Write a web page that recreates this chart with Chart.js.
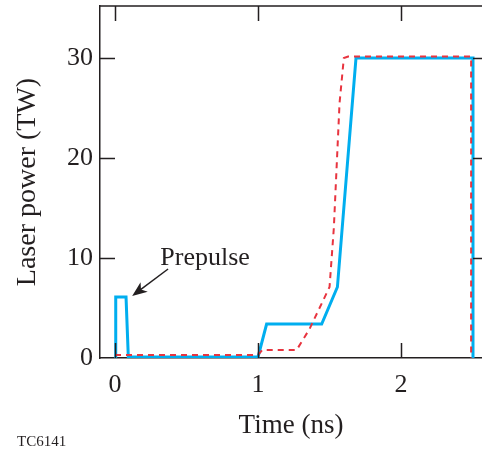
<!DOCTYPE html>
<html>
<head>
<meta charset="utf-8">
<script src="https://cdn.jsdelivr.net/npm/chart.js@4.4.0/dist/chart.umd.min.js"></script>
<style>
  html, body { margin: 0; padding: 0; background: #fff; overflow: hidden; }
  #wrap { position: relative; width: 482px; height: 450px; }
</style>
</head>
<body>
<div id="wrap"><canvas id="pulseChart"></canvas></div>
<script>
// Pulse shapes (time in ns, power in TW)
const blueTime  = [0, 0.005, 0.077, 0.093, 1.0, 1.06, 1.445, 1.555, 1.685, 2.503, 2.503];
const bluePower = [0, 6.1, 6.1, 0.1, 0.1, 3.4, 3.4, 7.1, 30, 30, 0];

const redTime  = [0, 1.0, 1.03, 1.27, 1.36, 1.5, 1.53, 1.57, 1.6, 1.63, 2.49, 2.49];
const redPower = [0.3, 0.3, 0.8, 0.8, 2.9, 7.1, 13, 25.5, 30, 30.15, 30.15, 0];

const xTicks = [0, 1, 2];
const yTicks = [0, 10, 20, 30];

const serif = '"Liberation Serif", "Times New Roman", serif';
const ink = '#231f20';

function toPoints(xs, ys) {
    return xs.map((x, i) => ({ x: x, y: ys[i] }));
}

// frame, inward ticks and the "Prepulse" note
const framePlugin = {
    id: 'frame',
    afterDatasetsDraw(chart) {
        const ctx = chart.ctx;
        const area = chart.chartArea;
        const xs = chart.scales.x;
        const ys = chart.scales.y;
        ctx.save();
        ctx.strokeStyle = ink;
        ctx.lineWidth = 1.5;
        ctx.beginPath();
        // top line
        ctx.moveTo(area.left, area.top);
        ctx.lineTo(area.right, area.top);
        // x ticks, bottom and top
        xTicks.forEach(v => {
            const px = Math.round(xs.getPixelForValue(v)) + 0.5;
            ctx.moveTo(px, area.bottom);
            ctx.lineTo(px, area.bottom - 15);
            ctx.moveTo(px, area.top);
            ctx.lineTo(px, area.top + 15);
        });
        // y ticks, left and right
        yTicks.slice(1).forEach(v => {
            const py = Math.round(ys.getPixelForValue(v)) + 0.5;
            ctx.moveTo(area.left, py);
            ctx.lineTo(area.left + 15, py);
            ctx.moveTo(area.right, py);
            ctx.lineTo(area.right - 9, py);
        });
        ctx.stroke();

        // annotation
        ctx.fillStyle = ink;
        ctx.font = '26px ' + serif;
        ctx.textAlign = 'center';
        ctx.textBaseline = 'alphabetic';
        ctx.fillText('Prepulse', xs.getPixelForValue(0.63), ys.getPixelForValue(9.3));

        const x0 = xs.getPixelForValue(0.371), y0 = ys.getPixelForValue(8.9);
        const x1 = xs.getPixelForValue(0.12), y1 = ys.getPixelForValue(6.2);
        const ang = Math.atan2(y1 - y0, x1 - x0);
        ctx.lineWidth = 1.5;
        ctx.beginPath();
        ctx.moveTo(x0, y0);
        ctx.lineTo(x1 - 8 * Math.cos(ang), y1 - 8 * Math.sin(ang));
        ctx.stroke();
        ctx.beginPath();
        ctx.moveTo(x1, y1);
        ctx.lineTo(x1 - 15 * Math.cos(ang) + 6 * Math.sin(ang), y1 - 15 * Math.sin(ang) - 6 * Math.cos(ang));
        ctx.lineTo(x1 - 11 * Math.cos(ang), y1 - 11 * Math.sin(ang));
        ctx.lineTo(x1 - 15 * Math.cos(ang) - 6 * Math.sin(ang), y1 - 15 * Math.sin(ang) + 6 * Math.cos(ang));
        ctx.closePath();
        ctx.fill();

        // figure id
        ctx.font = '15px ' + serif;
        ctx.textAlign = 'left';
        ctx.textBaseline = 'middle';
        ctx.fillText('TC6141', 17, 442);
        ctx.restore();
    }
};

new Chart(document.getElementById('pulseChart'), {
    type: 'line',
    data: {
        datasets: [
            {
                label: 'Measured',
                data: toPoints(redTime, redPower),
                borderColor: '#e8343f',
                borderWidth: 2,
                borderDash: [6, 5],
                pointRadius: 0,
                tension: 0,
                fill: false
            },
            {
                label: 'Design',
                data: toPoints(blueTime, bluePower),
                borderColor: '#00aeef',
                borderWidth: 3,
                pointRadius: 0,
                tension: 0,
                fill: false
            }
        ]
    },
    plugins: [framePlugin],
    options: {
        responsive: true,
        maintainAspectRatio: false,
        animation: false,
        layout: { padding: { top: 6, right: 0, left: 0, bottom: 0 } },
        plugins: {
            legend: { display: false },
            tooltip: { enabled: false }
        },
        scales: {
            x: {
                type: 'linear',
                min: -0.105,
                max: 2.566,
                afterBuildTicks: s => { s.ticks = xTicks.map(v => ({ value: v })); },
                afterFit: s => { s.height = 92; s.paddingLeft = 0; s.paddingRight = 0; },
                grid: { display: false, drawTicks: false },
                border: { display: true, color: ink, width: 1.5 },
                ticks: {
                    padding: 12,
                    color: ink,
                    font: { family: serif, size: 26 }
                },
                title: {
                    display: true,
                    text: 'Time (ns)',
                    color: ink,
                    font: { family: serif, size: 27 },
                    padding: { top: 4, bottom: 8 }
                }
            },
            y: {
                type: 'linear',
                min: 0,
                max: 35.2,
                afterBuildTicks: s => { s.ticks = yTicks.map(v => ({ value: v })); },
                afterFit: s => { s.width = 100; s.paddingTop = 0; s.paddingBottom = 0; },
                grid: { display: false, drawTicks: false },
                border: { display: true, color: ink, width: 1.5 },
                ticks: {
                    padding: 7,
                    color: ink,
                    font: { family: serif, size: 26 }
                },
                title: {
                    display: true,
                    text: 'Laser power (TW)',
                    color: ink,
                    font: { family: serif, size: 28 },
                    padding: { top: 11 }
                }
            }
        }
    }
});
</script>
</body>
</html>
